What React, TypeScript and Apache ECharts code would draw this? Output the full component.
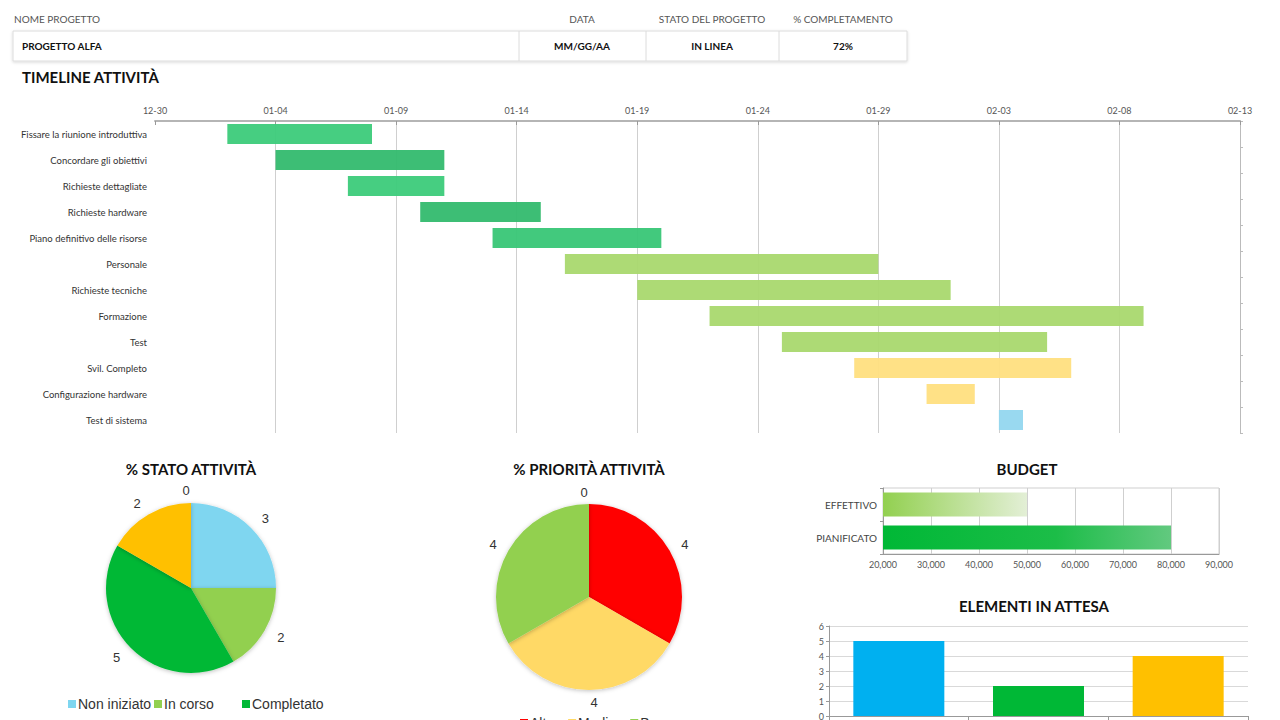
import * as echarts from "echarts";
import { useEffect, useRef } from "react";

const headerLabels = ["NOME PROGETTO", "DATA", "STATO DEL PROGETTO", "% COMPLETAMENTO"];
const headerValues = ["PROGETTO ALFA", "MM/GG/AA", "IN LINEA", "72%"];

const taskNames = [
    "Fissare la riunione introduttiva",
    "Concordare gli obiettivi",
    "Richieste dettagliate",
    "Richieste hardware",
    "Piano definitivo delle risorse",
    "Personale",
    "Richieste tecniche",
    "Formazione",
    "Test",
    "Svil. Completo",
    "Configurazione hardware",
    "Test di sistema",
];
const taskStarts = ["01-02", "01-04", "01-07", "01-10", "01-13", "01-16", "01-19", "01-22", "01-25", "01-28", "01-31", "02-03"];
const taskDays = [6, 7, 4, 5, 7, 13, 13, 18, 11, 9, 2, 1];
const taskColors = [
    "#3ccb7a", "#33ba6e", "#3ccb7a", "#33ba6e", "#38c676",
    "#a9d86e", "#a9d86e", "#a9d86e", "#a9d86e",
    "#ffdf7f", "#ffdf7f", "#93d7ef",
];
const timelineTicks = ["12-30", "01-04", "01-09", "01-14", "01-19", "01-24", "01-29", "02-03", "02-08", "02-13"];

// the zero slice comes first so its label sits at the top
const statusNames = ["In attesa", "Non iniziato", "In corso", "Completato", "In ritardo"];
const statusValues = [0, 3, 2, 5, 2];
const statusColors = ["#a6a6a6", "#7fd6f0", "#92d050", "#00b836", "#ffc000"];

const priorityNames = ["Nessuna", "Alta", "Media", "Bassa"];
const priorityValues = [0, 4, 4, 4];
const priorityColors = ["#a6a6a6", "#ff0000", "#ffd966", "#92d050"];

const budgetNames = ["EFFETTIVO", "PIANIFICATO"];
const budgetValues = [50000, 80000];
const budgetMin = 20000;

const pendingNames = ["Problemi", "Modifiche", "Rischi"];
const pendingValues = [5, 2, 4];
const pendingColors = ["#00b0f0", "#00b836", "#ffc000"];

const narrow = "'Lato', sans-serif";
const plain = "'Liberation Sans', Arial, sans-serif";

// days since 12-30
function dayIndex(md: string) {
    const [m, d] = md.split("-").map(Number);
    const year = m === 12 ? 2023 : 2024;
    const t = Date.UTC(year, m - 1, d) - Date.UTC(2023, 11, 30);
    return Math.round(t / 86400000);
}

// centre pie labels on the ray instead of hanging them left/right
function centreLabel(cx: number) {
    return (p: any) => {
        const r = p && p.labelRect;
        if (!r) return {};
        const mid = r.x + r.width / 2;
        return { dx: mid > cx ? -r.width / 2 : r.width / 2 };
    };
}

const App: React.FC = () => {
    const node = useRef<HTMLDivElement>(null);

    useEffect(() => {
        const chart = echarts.init(node.current, null, { renderer: "svg" });

        const colX = [14, 582, 712, 843];
        const header: any[] = [
            {
                type: "rect",
                shape: { x: 13, y: 31, width: 894, height: 30 },
                style: { fill: "#fff", stroke: "#dcdcdc", lineWidth: 1, shadowBlur: 3, shadowOffsetY: 1, shadowColor: "rgba(0,0,0,0.15)" },
            },
            ...[519, 646, 779].map((x) => ({
                type: "line",
                shape: { x1: x, y1: 31, x2: x, y2: 61 },
                style: { stroke: "#dcdcdc", lineWidth: 1 },
            })),
            ...headerLabels.map((t, i) => ({
                type: "text",
                x: colX[i],
                y: 19,
                style: { text: t, fontSize: 10, fill: "#555", fontFamily: narrow, align: i === 0 ? "left" : "center", verticalAlign: "middle" },
            })),
            ...headerValues.map((t, i) => ({
                type: "text",
                x: i === 0 ? 22 : colX[i],
                y: 46,
                style: { text: t, fontSize: 10, fontWeight: "bold", fill: "#111", fontFamily: narrow, align: i === 0 ? "left" : "center", verticalAlign: "middle" },
            })),
        ];

        const titles = [
            { text: "TIMELINE ATTIVITÀ", x: 22, y: 77, align: "left" },
            { text: "% STATO ATTIVITÀ", x: 191, y: 469, align: "center" },
            { text: "% PRIORITÀ ATTIVITÀ", x: 589, y: 469, align: "center" },
            { text: "BUDGET", x: 1027, y: 469, align: "center" },
            { text: "ELEMENTI IN ATTESA", x: 1034, y: 606, align: "center" },
        ].map((t) => ({
            type: "text",
            x: t.x,
            y: t.y,
            style: { text: t.text, fontSize: 15, fontWeight: "bold", fill: "#111", fontFamily: narrow, align: t.align, verticalAlign: "middle" },
        }));

        const offsets = taskStarts.map(dayIndex);

        const pieLabel = { show: true, position: "outside", formatter: "{c}", fontSize: 13, color: "#333", fontFamily: plain };
        const legendText = { fontSize: 14, color: "#333", fontFamily: plain, padding: [0, 0, 0, -3] };

        const option: echarts.EChartsOption = {
            animation: false,
            graphic: [...header, ...titles],
            legend: [
                { data: ["Non iniziato"], left: 63, top: 692, itemWidth: 8, itemHeight: 8, selectedMode: false, icon: "rect", textStyle: legendText },
                { data: ["In corso"], left: 149, top: 692, itemWidth: 8, itemHeight: 8, selectedMode: false, icon: "rect", textStyle: legendText },
                { data: ["Completato"], left: 237, top: 692, itemWidth: 8, itemHeight: 8, selectedMode: false, icon: "rect", textStyle: legendText },
                { data: ["Alta", "Media", "Bassa"], left: 515, top: 711, itemWidth: 8, itemHeight: 8, itemGap: 14, selectedMode: false, icon: "rect", textStyle: legendText },
            ],
            grid: [
                { left: 155, top: 121, width: 1085, height: 312, outerBoundsMode: "none" },
                { left: 883, top: 488, width: 336, height: 66, show: true, borderColor: "#cfcfcf", borderWidth: 1, outerBoundsMode: "none" },
                { left: 829, top: 626, width: 419, height: 90, outerBoundsMode: "none" },
            ] as any,
            xAxis: [
                {
                    type: "value",
                    gridIndex: 0,
                    position: "top",
                    min: 0,
                    max: 45,
                    interval: 5,
                    axisLine: { show: true, lineStyle: { color: "#b5b5b5", width: 2 } },
                    axisTick: { show: true, inside: true, length: 4, lineStyle: { color: "#999" } },
                    axisLabel: { formatter: (v: number) => timelineTicks[Math.round(v / 5)], fontSize: 9, color: "#555", fontFamily: narrow, margin: 6 },
                    splitLine: { show: true, showMinLine: false, lineStyle: { color: "#cfcfcf" } },
                },
                {
                    type: "value",
                    gridIndex: 1,
                    min: budgetMin,
                    max: 90000,
                    interval: 10000,
                    axisLine: { show: true, lineStyle: { color: "#999" } },
                    axisTick: { show: false },
                    axisLabel: { formatter: (v: number) => v.toLocaleString("en-US"), fontSize: 9, color: "#555", fontFamily: narrow, margin: 6 },
                    splitLine: { show: true, lineStyle: { color: "#cfcfcf" } },
                },
                {
                    type: "category",
                    gridIndex: 2,
                    data: pendingNames,
                    axisLine: { show: true, lineStyle: { color: "#999" } },
                    axisTick: { show: true, length: 4, lineStyle: { color: "#999" } },
                    axisLabel: { show: false },
                },
            ],
            yAxis: [
                {
                    type: "category",
                    gridIndex: 0,
                    data: taskNames,
                    inverse: true,
                    axisLine: { show: false },
                    axisTick: { show: false },
                    axisLabel: { fontSize: 9.5, color: "#333", fontFamily: narrow, margin: 8 },
                },
                {
                    type: "category",
                    gridIndex: 0,
                    data: taskNames,
                    inverse: true,
                    position: "right",
                    axisLine: { show: true, lineStyle: { color: "#bbb" } },
                    axisTick: { show: true, length: 3, lineStyle: { color: "#bbb" } },
                    axisLabel: { show: false },
                },
                {
                    type: "category",
                    gridIndex: 1,
                    data: budgetNames,
                    inverse: true,
                    axisLine: { show: true, lineStyle: { color: "#999" } },
                    axisTick: { show: true, length: 3, lineStyle: { color: "#999" } },
                    axisLabel: { fontSize: 10, color: "#444", fontFamily: narrow, margin: 6 },
                },
                {
                    type: "value",
                    gridIndex: 2,
                    min: 0,
                    max: 6,
                    interval: 1,
                    axisLine: { show: true, lineStyle: { color: "#999" } },
                    axisTick: { show: true, length: 3, lineStyle: { color: "#999" } },
                    axisLabel: { fontSize: 9, color: "#555", fontFamily: narrow, margin: 5 },
                    splitLine: { show: true, lineStyle: { color: "#d9d9d9" } },
                },
            ],
            series: [
                {
                    type: "bar",
                    xAxisIndex: 0,
                    yAxisIndex: 0,
                    stack: "gantt",
                    barWidth: 20,
                    silent: true,
                    itemStyle: { color: "transparent" },
                    data: offsets,
                },
                {
                    type: "bar",
                    xAxisIndex: 0,
                    yAxisIndex: 0,
                    stack: "gantt",
                    barWidth: 20,
                    data: taskDays.map((d, i) => ({ value: d, itemStyle: { color: taskColors[i], opacity: 0.95 } })),
                },
                {
                    type: "pie",
                    center: [191, 588],
                    radius: 85,
                    avoidLabelOverlap: false,
                    silent: true,
                    label: pieLabel,
                    labelLine: { show: false, length: 13, length2: 0 },
                    labelLayout: centreLabel(191),
                    itemStyle: { borderWidth: 0, shadowBlur: 4, shadowOffsetY: 1, shadowColor: "rgba(0,0,0,0.25)" },
                    data: statusNames.map((n, i) => ({ name: n, value: statusValues[i], itemStyle: { color: statusColors[i] } })),
                },
                {
                    type: "pie",
                    center: [589, 597],
                    radius: 93,
                    avoidLabelOverlap: false,
                    silent: true,
                    label: pieLabel,
                    labelLine: { show: false, length: 12, length2: 0 },
                    labelLayout: centreLabel(589),
                    itemStyle: { borderWidth: 0, shadowBlur: 4, shadowOffsetY: 1, shadowColor: "rgba(0,0,0,0.25)" },
                    data: priorityNames.map((n, i) => ({ name: n, value: priorityValues[i], itemStyle: { color: priorityColors[i] } })),
                },
                {
                    type: "bar",
                    xAxisIndex: 1,
                    yAxisIndex: 2,
                    stack: "budget",
                    barWidth: 24,
                    silent: true,
                    itemStyle: { color: "transparent" },
                    data: budgetValues.map(() => budgetMin),
                },
                {
                    type: "bar",
                    xAxisIndex: 1,
                    yAxisIndex: 2,
                    stack: "budget",
                    barWidth: 24,
                    data: [
                        {
                            value: budgetValues[0] - budgetMin,
                            itemStyle: {
                                color: new echarts.graphic.LinearGradient(0, 0, 1, 0, [
                                    { offset: 0, color: "#92d050" },
                                    { offset: 1, color: "#e3efd6" },
                                ]),
                            },
                        },
                        {
                            value: budgetValues[1] - budgetMin,
                            itemStyle: {
                                color: new echarts.graphic.LinearGradient(0, 0, 1, 0, [
                                    { offset: 0, color: "#00b836" },
                                    { offset: 0.6, color: "#1cbd48" },
                                    { offset: 1, color: "#62c97f" },
                                ]),
                            },
                        },
                    ],
                },
                {
                    type: "bar",
                    xAxisIndex: 2,
                    yAxisIndex: 3,
                    barWidth: 91,
                    data: pendingValues.map((v, i) => ({ value: v, itemStyle: { color: pendingColors[i] } })),
                },
            ],
        };

        chart.setOption(option);
        return () => {
            chart.dispose();
        };
    }, []);

    return <div ref={node} style={{ position: "absolute", left: 0, top: 0, width: 1280, height: 720 }}></div>;
};

export default App;
